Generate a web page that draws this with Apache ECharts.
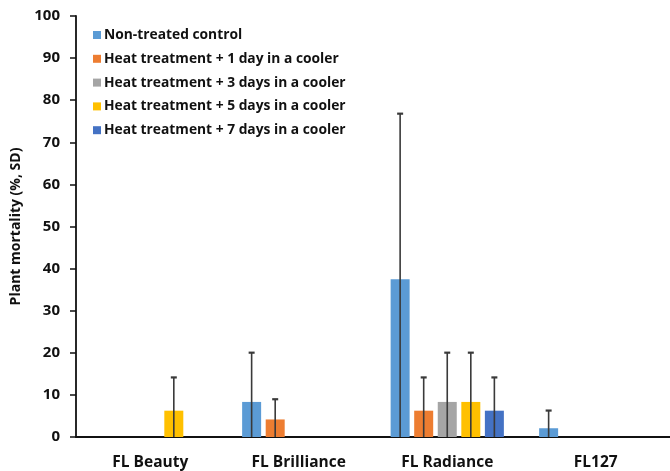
<!DOCTYPE html>
<html>
<head>
<meta charset="utf-8">
<script src="https://cdn.jsdelivr.net/npm/echarts@6/dist/echarts.min.js"></script>
<style>html,body{margin:0;padding:0;background:#fff}#c{width:670px;height:471px}</style>
</head>
<body>
<div id="c"></div>
<script>
var categories = ['FL Beauty', 'FL Brilliance', 'FL Radiance', 'FL127'];
var seriesNames = ['Non-treated control', 'Heat treatment + 1 day in a cooler', 'Heat treatment + 3 days in a cooler', 'Heat treatment + 5 days in a cooler', 'Heat treatment + 7 days in a cooler'];
var control = [0, 8.33, 37.5, 2.08];
var day1 = [0, 4.17, 6.25, 0];
var day3 = [0, 0, 8.33, 0];
var day5 = [6.25, 0, 8.33, 0];
var day7 = [0, 0, 6.25, 0];
var controlSD = [0, 11.7, 39.3, 4.2];
var day1SD = [0, 4.8, 7.9, 0];
var day3SD = [0, 0, 11.7, 0];
var day5SD = [7.9, 0, 11.7, 0];
var day7SD = [0, 0, 7.9, 0];
var yTicks = [0, 10, 20, 30, 40, 50, 60, 70, 80, 90, 100];

var means = [control, day1, day3, day5, day7];
var sds = [controlSD, day1SD, day3SD, day5SD, day7SD];
var colors = ['#5B9BD5', '#ED7D31', '#A5A5A5', '#FFC000', '#4472C4'];
var BAR_W = 19, GAP = 0.24;
var FONT = '"Open Sans", "Noto Sans", sans-serif';

var series = [];
means.forEach(function (m, i) {
  series.push({
    name: seriesNames[i], type: 'bar', data: m, barWidth: BAR_W, barGap: (GAP * 100) + '%',
    itemStyle: { color: colors[i] }, z: 2
  });
});
means.forEach(function (m, i) {
  var data = m.map(function (v, j) { return [j, Math.max(0, v - sds[i][j]), v + sds[i][j], sds[i][j]]; })
    .filter(function (d) { return d[3] > 0; });
  series.push({
    type: 'custom', data: data, z: 5, silent: true,
    renderItem: function (params, api) {
      var off = (i - 2) * BAR_W * (1 + GAP);
      var lo = api.coord([api.value(0), api.value(1)]);
      var hi = api.coord([api.value(0), api.value(2)]);
      var x = lo[0] + off;
      var st = { stroke: '#3a3a3a', lineWidth: 1.6 };
      return { type: 'group', children: [
        { type: 'line', shape: { x1: x, y1: lo[1], x2: x, y2: hi[1] }, style: st },
        { type: 'line', shape: { x1: x - 3, y1: hi[1], x2: x + 3, y2: hi[1] }, style: { stroke: '#3a3a3a', lineWidth: 2.2 } }
      ] };
    }
  });
});

var chart = echarts.init(document.getElementById('c'), null, { renderer: 'canvas' });
chart.setOption({
  animation: false,
  backgroundColor: '#fff',
  textStyle: { fontFamily: FONT },
  grid: { left: 76, right: -4, top: 16, bottom: 34, containLabel: false },
  legend: {
    orient: 'vertical', left: 88, top: 23, itemWidth: 8, itemHeight: 8, itemGap: 9.8,
    icon: 'rect', data: seriesNames,
    textStyle: { fontSize: 13.8, fontWeight: 'bold', color: '#111', fontFamily: FONT, padding: [0, 0, 0, -2] }
  },
  xAxis: {
    type: 'category', data: categories,
    axisLine: { lineStyle: { color: '#111', width: 1.8 } },
    axisTick: { alignWithLabel: true, length: 4, lineStyle: { color: '#111', width: 1.5 }, inside: false },
    axisLabel: { fontSize: 15.5, fontWeight: 'bold', color: '#111', margin: 18, fontFamily: FONT }
  },
  yAxis: {
    type: 'value', min: yTicks[0], max: yTicks[yTicks.length - 1], interval: yTicks[1] - yTicks[0],
    name: 'Plant mortality (%, SD)', nameLocation: 'middle', nameGap: 50,
    nameTextStyle: { fontSize: 14, fontWeight: 'bold', color: '#111', fontFamily: FONT },
    axisLine: { show: true, lineStyle: { color: '#111', width: 1.8 } },
    axisTick: { show: true, length: 6, lineStyle: { color: '#111', width: 1.5 } },
    splitLine: { show: false },
    axisLabel: { fontSize: 15, fontWeight: 'bold', color: '#111', margin: 16, fontFamily: FONT }
  },
  series: series
});
</script>
</body>
</html>
